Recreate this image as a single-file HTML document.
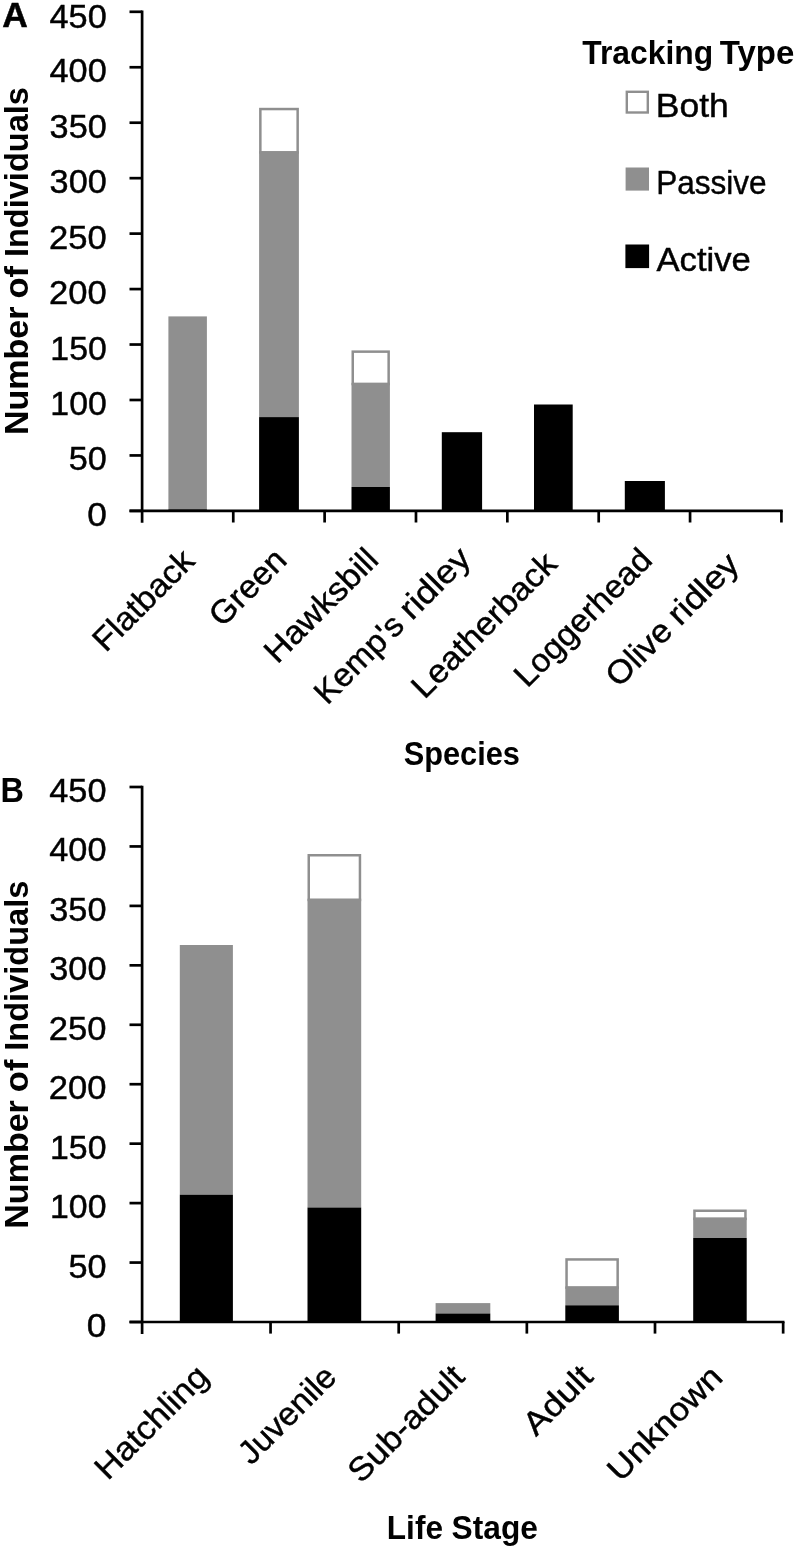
<!DOCTYPE html>
<html lang="en"><head><meta charset="utf-8"><title>Tracking type by species and life stage</title>
<style>
html,body{margin:0;padding:0;background:#fff;}
svg{display:block;}
text{font-family:'Liberation Sans', sans-serif;fill:#000;}
</style></head>
<body>
<svg width="801" height="1551" viewBox="0 0 801 1551" shape-rendering="geometricPrecision">
<rect width="801" height="1551" fill="#fff"/>
<g>
<rect x="168.40" y="316.40" width="38.50" height="193.00" fill="#8f8f8f"/>
<rect x="168.40" y="509.40" width="38.50" height="2.50" fill="#000"/>
<rect x="260.35" y="109.05" width="37.30" height="43.40" fill="#fff" stroke="#8f8f8f" stroke-width="2.5"/>
<rect x="259.10" y="151.20" width="39.80" height="265.90" fill="#8f8f8f"/>
<rect x="259.10" y="417.10" width="39.80" height="94.80" fill="#000"/>
<rect x="352.75" y="351.65" width="35.90" height="32.40" fill="#fff" stroke="#8f8f8f" stroke-width="2.5"/>
<rect x="351.50" y="382.80" width="38.40" height="104.20" fill="#8f8f8f"/>
<rect x="351.50" y="487.00" width="38.40" height="24.90" fill="#000"/>
<rect x="441.80" y="432.20" width="40.30" height="79.70" fill="#000"/>
<rect x="534.00" y="404.50" width="38.70" height="107.40" fill="#000"/>
<rect x="624.80" y="481.00" width="40.10" height="30.90" fill="#000"/>
<rect x="179.80" y="945.00" width="53.10" height="249.70" fill="#8f8f8f"/>
<rect x="179.80" y="1194.70" width="53.10" height="128.30" fill="#000"/>
<rect x="308.75" y="855.25" width="51.20" height="44.70" fill="#fff" stroke="#8f8f8f" stroke-width="2.5"/>
<rect x="307.50" y="898.70" width="53.70" height="308.80" fill="#8f8f8f"/>
<rect x="307.50" y="1207.50" width="53.70" height="115.50" fill="#000"/>
<rect x="435.60" y="1303.10" width="54.70" height="10.40" fill="#8f8f8f"/>
<rect x="435.60" y="1313.50" width="54.70" height="9.50" fill="#000"/>
<rect x="566.55" y="1259.45" width="51.10" height="28.20" fill="#fff" stroke="#8f8f8f" stroke-width="2.5"/>
<rect x="565.30" y="1286.40" width="53.60" height="18.90" fill="#8f8f8f"/>
<rect x="565.30" y="1305.30" width="53.60" height="17.70" fill="#000"/>
<rect x="694.45" y="1210.75" width="51.00" height="8.10" fill="#fff" stroke="#8f8f8f" stroke-width="2.5"/>
<rect x="693.20" y="1217.60" width="53.50" height="20.40" fill="#8f8f8f"/>
<rect x="693.20" y="1238.00" width="53.50" height="85.00" fill="#000"/>
<line x1="142.10" y1="10.45" x2="142.10" y2="522.70" stroke="#000" stroke-width="2.7"/>
<line x1="129.50" y1="510.90" x2="142.10" y2="510.90" stroke="#000" stroke-width="2.7"/>
<line x1="129.50" y1="455.44" x2="142.10" y2="455.44" stroke="#000" stroke-width="2.7"/>
<line x1="129.50" y1="399.99" x2="142.10" y2="399.99" stroke="#000" stroke-width="2.7"/>
<line x1="129.50" y1="344.53" x2="142.10" y2="344.53" stroke="#000" stroke-width="2.7"/>
<line x1="129.50" y1="289.08" x2="142.10" y2="289.08" stroke="#000" stroke-width="2.7"/>
<line x1="129.50" y1="233.62" x2="142.10" y2="233.62" stroke="#000" stroke-width="2.7"/>
<line x1="129.50" y1="178.17" x2="142.10" y2="178.17" stroke="#000" stroke-width="2.7"/>
<line x1="129.50" y1="122.71" x2="142.10" y2="122.71" stroke="#000" stroke-width="2.7"/>
<line x1="129.50" y1="67.26" x2="142.10" y2="67.26" stroke="#000" stroke-width="2.7"/>
<line x1="129.50" y1="11.80" x2="142.10" y2="11.80" stroke="#000" stroke-width="2.7"/>
<line x1="129.50" y1="510.90" x2="782.77" y2="510.90" stroke="#000" stroke-width="2.7"/>
<line x1="233.26" y1="510.90" x2="233.26" y2="522.50" stroke="#000" stroke-width="2.7"/>
<line x1="324.62" y1="510.90" x2="324.62" y2="522.50" stroke="#000" stroke-width="2.7"/>
<line x1="415.98" y1="510.90" x2="415.98" y2="522.50" stroke="#000" stroke-width="2.7"/>
<line x1="507.34" y1="510.90" x2="507.34" y2="522.50" stroke="#000" stroke-width="2.7"/>
<line x1="598.70" y1="510.90" x2="598.70" y2="522.50" stroke="#000" stroke-width="2.7"/>
<line x1="690.06" y1="510.90" x2="690.06" y2="522.50" stroke="#000" stroke-width="2.7"/>
<line x1="781.42" y1="510.90" x2="781.42" y2="522.50" stroke="#000" stroke-width="2.7"/>
<line x1="142.10" y1="785.65" x2="142.10" y2="1334.00" stroke="#000" stroke-width="2.7"/>
<line x1="129.50" y1="1322.00" x2="142.10" y2="1322.00" stroke="#000" stroke-width="2.7"/>
<line x1="129.50" y1="1262.56" x2="142.10" y2="1262.56" stroke="#000" stroke-width="2.7"/>
<line x1="129.50" y1="1203.11" x2="142.10" y2="1203.11" stroke="#000" stroke-width="2.7"/>
<line x1="129.50" y1="1143.67" x2="142.10" y2="1143.67" stroke="#000" stroke-width="2.7"/>
<line x1="129.50" y1="1084.22" x2="142.10" y2="1084.22" stroke="#000" stroke-width="2.7"/>
<line x1="129.50" y1="1024.78" x2="142.10" y2="1024.78" stroke="#000" stroke-width="2.7"/>
<line x1="129.50" y1="965.33" x2="142.10" y2="965.33" stroke="#000" stroke-width="2.7"/>
<line x1="129.50" y1="905.89" x2="142.10" y2="905.89" stroke="#000" stroke-width="2.7"/>
<line x1="129.50" y1="846.44" x2="142.10" y2="846.44" stroke="#000" stroke-width="2.7"/>
<line x1="129.50" y1="787.00" x2="142.10" y2="787.00" stroke="#000" stroke-width="2.7"/>
<line x1="129.50" y1="1322.00" x2="784.50" y2="1322.00" stroke="#000" stroke-width="2.7"/>
<line x1="270.55" y1="1322.00" x2="270.55" y2="1333.60" stroke="#000" stroke-width="2.7"/>
<line x1="398.70" y1="1322.00" x2="398.70" y2="1333.60" stroke="#000" stroke-width="2.7"/>
<line x1="526.85" y1="1322.00" x2="526.85" y2="1333.60" stroke="#000" stroke-width="2.7"/>
<line x1="655.00" y1="1322.00" x2="655.00" y2="1333.60" stroke="#000" stroke-width="2.7"/>
<line x1="783.15" y1="1322.00" x2="783.15" y2="1333.60" stroke="#000" stroke-width="2.7"/>
<rect x="626.80" y="91.80" width="21.00" height="20.70" fill="#fff" stroke="#8f8f8f" stroke-width="2.4"/>
<rect x="625.60" y="167.50" width="23.40" height="23.10" fill="#8f8f8f"/>
<rect x="625.40" y="244.50" width="23.70" height="23.60" fill="#000"/>
</g>
<g opacity="0.999">
<text transform="translate(105.90,525.90)" x="-18.75" y="0" font-size="32.7" stroke="#000" stroke-width="0.45" textLength="19.63" lengthAdjust="spacingAndGlyphs">0</text>
<text transform="translate(105.90,470.44)" x="-37.21" y="0" font-size="32.7" stroke="#000" stroke-width="0.45" textLength="38.06" lengthAdjust="spacingAndGlyphs">50</text>
<text transform="translate(105.90,414.99)" x="-55.57" y="0" font-size="32.7" stroke="#000" stroke-width="0.45" textLength="56.41" lengthAdjust="spacingAndGlyphs">100</text>
<text transform="translate(105.90,359.53)" x="-55.57" y="0" font-size="32.7" stroke="#000" stroke-width="0.45" textLength="56.41" lengthAdjust="spacingAndGlyphs">150</text>
<text transform="translate(105.90,304.08)" x="-56.84" y="0" font-size="32.7" stroke="#000" stroke-width="0.45" textLength="57.70" lengthAdjust="spacingAndGlyphs">200</text>
<text transform="translate(105.90,248.62)" x="-56.84" y="0" font-size="32.7" stroke="#000" stroke-width="0.45" textLength="57.70" lengthAdjust="spacingAndGlyphs">250</text>
<text transform="translate(105.90,193.17)" x="-56.29" y="0" font-size="32.7" stroke="#000" stroke-width="0.45" textLength="57.15" lengthAdjust="spacingAndGlyphs">300</text>
<text transform="translate(105.90,137.71)" x="-56.29" y="0" font-size="32.7" stroke="#000" stroke-width="0.45" textLength="57.15" lengthAdjust="spacingAndGlyphs">350</text>
<text transform="translate(105.90,82.26)" x="-56.35" y="0" font-size="32.7" stroke="#000" stroke-width="0.45" textLength="57.20" lengthAdjust="spacingAndGlyphs">400</text>
<text transform="translate(105.90,27.60)" x="-56.35" y="0" font-size="32.7" stroke="#000" stroke-width="0.45" textLength="57.20" lengthAdjust="spacingAndGlyphs">450</text>
<text transform="translate(105.60,1337.00)" x="-18.75" y="0" font-size="32.7" stroke="#000" stroke-width="0.45" textLength="19.63" lengthAdjust="spacingAndGlyphs">0</text>
<text transform="translate(105.60,1277.56)" x="-37.21" y="0" font-size="32.7" stroke="#000" stroke-width="0.45" textLength="38.06" lengthAdjust="spacingAndGlyphs">50</text>
<text transform="translate(105.60,1218.11)" x="-55.57" y="0" font-size="32.7" stroke="#000" stroke-width="0.45" textLength="56.41" lengthAdjust="spacingAndGlyphs">100</text>
<text transform="translate(105.60,1158.67)" x="-55.57" y="0" font-size="32.7" stroke="#000" stroke-width="0.45" textLength="56.41" lengthAdjust="spacingAndGlyphs">150</text>
<text transform="translate(105.60,1099.22)" x="-56.84" y="0" font-size="32.7" stroke="#000" stroke-width="0.45" textLength="57.70" lengthAdjust="spacingAndGlyphs">200</text>
<text transform="translate(105.60,1039.78)" x="-56.84" y="0" font-size="32.7" stroke="#000" stroke-width="0.45" textLength="57.70" lengthAdjust="spacingAndGlyphs">250</text>
<text transform="translate(105.60,980.33)" x="-56.29" y="0" font-size="32.7" stroke="#000" stroke-width="0.45" textLength="57.15" lengthAdjust="spacingAndGlyphs">300</text>
<text transform="translate(105.60,920.89)" x="-56.29" y="0" font-size="32.7" stroke="#000" stroke-width="0.45" textLength="57.15" lengthAdjust="spacingAndGlyphs">350</text>
<text transform="translate(105.60,861.44)" x="-56.35" y="0" font-size="32.7" stroke="#000" stroke-width="0.45" textLength="57.20" lengthAdjust="spacingAndGlyphs">400</text>
<text transform="translate(105.60,802.00)" x="-56.35" y="0" font-size="32.7" stroke="#000" stroke-width="0.45" textLength="57.20" lengthAdjust="spacingAndGlyphs">450</text>
<text transform="translate(196.59,562.49) rotate(-45)" x="-128.31" y="0" font-size="32.7" stroke="#000" stroke-width="0.45" textLength="127.79" lengthAdjust="spacingAndGlyphs">Flatback</text>
<text transform="translate(287.24,563.20) rotate(-45)" x="-91.90" y="0" font-size="32.7" stroke="#000" stroke-width="0.45" textLength="93.79" lengthAdjust="spacingAndGlyphs">Green</text>
<text transform="translate(378.60,563.20) rotate(-45)" x="-143.51" y="0" font-size="32.7" stroke="#000" stroke-width="0.45" textLength="145.78" lengthAdjust="spacingAndGlyphs">Hawksbill</text>
<text transform="translate(472.58,560.58) rotate(-45)" y="0" font-size="32.7" stroke="#000" stroke-width="0.45"><tspan x="-205.61" textLength="111.22" lengthAdjust="spacingAndGlyphs">Kemp's</tspan><tspan x="-95.58" textLength="95.58" lengthAdjust="spacingAndGlyphs"> ridley</tspan></text>
<text transform="translate(559.06,565.46) rotate(-45)" x="-190.33" y="0" font-size="32.7" stroke="#000" stroke-width="0.45" textLength="189.79" lengthAdjust="spacingAndGlyphs">Leatherback</text>
<text transform="translate(652.68,563.20) rotate(-45)" x="-177.48" y="0" font-size="32.7" stroke="#000" stroke-width="0.45" textLength="179.37" lengthAdjust="spacingAndGlyphs">Loggerhead</text>
<text transform="translate(741.07,566.17) rotate(-45)" y="0" font-size="32.7" stroke="#000" stroke-width="0.45"><tspan x="-173.07" textLength="78.69" lengthAdjust="spacingAndGlyphs">Olive</tspan><tspan x="-96.03" textLength="96.03" lengthAdjust="spacingAndGlyphs"> ridley</tspan></text>
<text transform="translate(209.08,1379.87) rotate(-45)" x="-143.48" y="0" font-size="32.7" stroke="#000" stroke-width="0.45" textLength="145.44" lengthAdjust="spacingAndGlyphs">Hatchling</text>
<text transform="translate(337.25,1379.80) rotate(-45)" x="-121.80" y="0" font-size="32.7" stroke="#000" stroke-width="0.45" textLength="123.16" lengthAdjust="spacingAndGlyphs">Juvenile</text>
<text transform="translate(466.55,1378.60) rotate(-45)" x="-149.27" y="0" font-size="32.7" stroke="#000" stroke-width="0.45" textLength="149.15" lengthAdjust="spacingAndGlyphs">Sub-adult</text>
<text transform="translate(594.87,1378.38) rotate(-45)" x="-83.34" y="0" font-size="32.7" stroke="#000" stroke-width="0.45" textLength="83.21" lengthAdjust="spacingAndGlyphs">Adult</text>
<text transform="translate(722.91,1380.44) rotate(-45)" x="-144.95" y="0" font-size="32.7" stroke="#000" stroke-width="0.45" textLength="146.92" lengthAdjust="spacingAndGlyphs">Unknown</text>
<text transform="translate(658.60,117.10)" x="-2.77" y="0" font-size="32.7" stroke="#000" stroke-width="0.45" textLength="73.00" lengthAdjust="spacingAndGlyphs">Both</text>
<text transform="translate(658.60,193.60)" x="-2.46" y="0" font-size="32.7" stroke="#000" stroke-width="0.45" textLength="110.44" lengthAdjust="spacingAndGlyphs">Passive</text>
<text transform="translate(656.50,271.40)" x="0.00" y="0" font-size="32.7" stroke="#000" stroke-width="0.45" textLength="94.37" lengthAdjust="spacingAndGlyphs">Active</text>
<text transform="translate(582.30,64.20)" y="0" font-size="32.7" font-weight="bold"><tspan x="0.00" textLength="130.81" lengthAdjust="spacingAndGlyphs">Tracking</tspan><tspan x="128.32" textLength="83.72" lengthAdjust="spacingAndGlyphs"> Type</tspan></text>
<text transform="translate(404.20,765.00)" x="-0.48" y="0" font-size="32.7" font-weight="bold" textLength="116.16" lengthAdjust="spacingAndGlyphs">Species</text>
<text transform="translate(388.80,1539.10)" y="0" font-size="32.7" font-weight="bold"><tspan x="-1.97" textLength="56.16" lengthAdjust="spacingAndGlyphs">Life</tspan><tspan x="54.01" textLength="95.05" lengthAdjust="spacingAndGlyphs"> Stage</tspan></text>
<text transform="translate(28.40,433.00) rotate(-90)" y="0" font-size="32.7" font-weight="bold"><tspan x="-2.13" textLength="128.57" lengthAdjust="spacingAndGlyphs">Number</tspan><tspan x="124.79" textLength="42.35" lengthAdjust="spacingAndGlyphs"> of</tspan><tspan x="166.84" textLength="179.15" lengthAdjust="spacingAndGlyphs"> Individuals</tspan></text>
<text transform="translate(28.40,1226.60) rotate(-90)" y="0" font-size="32.7" font-weight="bold"><tspan x="-2.13" textLength="128.57" lengthAdjust="spacingAndGlyphs">Number</tspan><tspan x="124.79" textLength="42.35" lengthAdjust="spacingAndGlyphs"> of</tspan><tspan x="166.84" textLength="179.15" lengthAdjust="spacingAndGlyphs"> Individuals</tspan></text>
<text transform="translate(2.90,26.70)" x="-0.55" y="0" font-size="34.4" font-weight="bold" stroke="#000" stroke-width="0.5" textLength="25.59" lengthAdjust="spacingAndGlyphs">A</text>
<text transform="translate(2.60,801.70)" x="-2.03" y="0" font-size="34.2" font-weight="bold" textLength="23.46" lengthAdjust="spacingAndGlyphs">B</text>
</g>
</svg>
</body></html>
